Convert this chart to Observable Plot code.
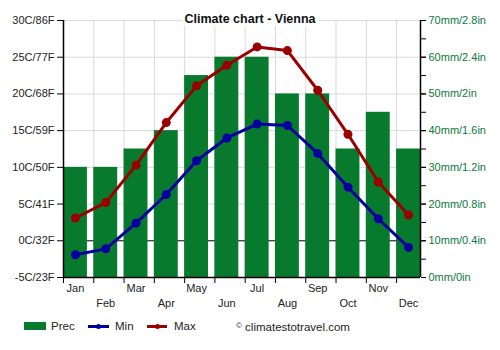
<!DOCTYPE html>
<html><head><meta charset="utf-8">
<script src="https://cdn.jsdelivr.net/npm/d3@7"></script>
<script src="https://cdn.jsdelivr.net/npm/@observablehq/plot@0.6"></script>
<style>
body{margin:0;background:#fff;font-family:"Liberation Sans",Arial,sans-serif;}
#wrap{position:relative;width:500px;height:350px;overflow:hidden;}
#title{position:absolute;top:9px;left:0;width:500px;text-align:center;pointer-events:none;}
#title span{background:#fff;font-weight:bold;font-size:12.5px;color:#111;padding:0 2px;}
#legend{position:absolute;top:318px;left:0;width:500px;height:16px;font-size:11.5px;color:#222;}
#legend .it{position:absolute;top:0;line-height:16px;}
</style></head>
<body><div id="wrap"><div id="chart"></div>
<div id="title"><span>Climate chart - Vienna</span></div>
<div id="legend">
<div class="it" style="left:24px;top:4px;width:22px;height:8px;background:#077a2e"></div>
<div class="it" style="left:51px">Prec</div>
<div class="it" style="left:88px;top:6.5px;width:21px;height:3px;background:#00009e"></div>
<div class="it" style="left:96px;top:5.5px;width:5px;height:5px;border-radius:50%;background:#00009e"></div>
<div class="it" style="left:115px">Min</div>
<div class="it" style="left:147px;top:6.5px;width:20px;height:3px;background:#9b0000"></div>
<div class="it" style="left:155px;top:5.5px;width:5px;height:5px;border-radius:50%;background:#9b0000"></div>
<div class="it" style="left:174px">Max</div>
<div class="it" style="left:236px"><span style="font-size:8px;vertical-align:3px">©</span> climatestotravel.com</div>
</div></div>
<script>
const months = ["Jan","Feb","Mar","Apr","May","Jun","Jul","Aug","Sep","Oct","Nov","Dec"];
const precip = [30,30,35,40,55,60,60,50,50,35,45,35];
const tMin = [-1.9,-1.1,2.4,6.3,10.9,14.0,15.9,15.7,11.9,7.3,3.0,-0.9];
const tMax = [3.1,5.2,10.3,16.1,21.1,23.9,26.4,25.9,20.5,14.5,8.0,3.5];
const tempTicks = [-5,0,5,10,15,20,25,30];
const precTicks = [0,10,20,30,40,50,60,70];

const barFrac = 0.79;
const data = months.map((m,i)=>({m,i,p:precip[i],lo:tMin[i],hi:tMax[i]}));
const p2t = p => p/2 - 5; // 0..70mm -> -5..30 C
const cf = c => `${c}C/${Math.round(c*9/5+32)}F`;
const mf = mm => { const inch = +(mm/25).toFixed(1); return `${mm}mm/${inch}in`; };

const chart = Plot.plot({
  width:500, height:310,
  marginLeft:63, marginRight:80, marginTop:20, marginBottom:33,
  style:{fontFamily:"Liberation Sans, Arial, sans-serif", fontSize:"11px", background:"transparent"},
  x:{domain:[0,11+barFrac], axis:null},
  y:{domain:[-5,30], axis:null},
  marks:[
    Plot.ruleY(tempTicks.filter(t=>t!==0 && t!==-5), {stroke:"#d9d9d9", strokeWidth:1}),
    Plot.ruleX(d3.range(1,12), {stroke:"#d9d9d9", strokeWidth:1}),
    Plot.ruleY([0], {stroke:"#000", strokeWidth:1}),
    Plot.rectY(data, {x1:d=>d.i, x2:d=>d.i+barFrac, y1:-5, y2:d=>p2t(d.p), fill:"#077a2e"}),
    Plot.line(data, {x:d=>d.i+barFrac/2, y:"lo", stroke:"#00009e", strokeWidth:3}),
    Plot.dot(data, {x:d=>d.i+barFrac/2, y:"lo", fill:"#00009e", r:4.5}),
    Plot.line(data, {x:d=>d.i+barFrac/2, y:"hi", stroke:"#9b0000", strokeWidth:3}),
    Plot.dot(data, {x:d=>d.i+barFrac/2, y:"hi", fill:"#9b0000", r:4.5}),
    Plot.ruleX([0], {stroke:"#000", strokeWidth:1.5}),
    Plot.ruleX([11+barFrac], {stroke:"#000", strokeWidth:1.5}),
    Plot.ruleY([-5], {stroke:"#000", strokeWidth:1.5}),
    Plot.axisY(tempTicks, {anchor:"left", tickSize:6, tickFormat:cf, fill:"#222", tickPadding:3, fontSize:11}),
    Plot.axisY(d3.range(0,71,5).map(p2t), {anchor:"right", tickSize:5, tickFormat:()=>"", label:null}),
    Plot.axisY(precTicks.map(p2t), {anchor:"right", tickSize:5, tickFormat:t=>mf((t+5)*2), fill:"#0a7a3a", tickPadding:3, fontSize:11}),
    Plot.axisX(d3.range(0,12), {anchor:"bottom", tickSize:6, tickFormat:()=>"", label:null}),
    Plot.text(data.filter(d=>d.i%2===0), {x:d=>d.i+barFrac/2, y:-5, text:"m", dy:11, fill:"#222", fontSize:11}),
    Plot.text(data.filter(d=>d.i%2===1), {x:d=>d.i+barFrac/2, y:-5, text:"m", dy:26, fill:"#222", fontSize:11})
  ]
});
document.getElementById("chart").appendChild(chart);
</script></body></html>
